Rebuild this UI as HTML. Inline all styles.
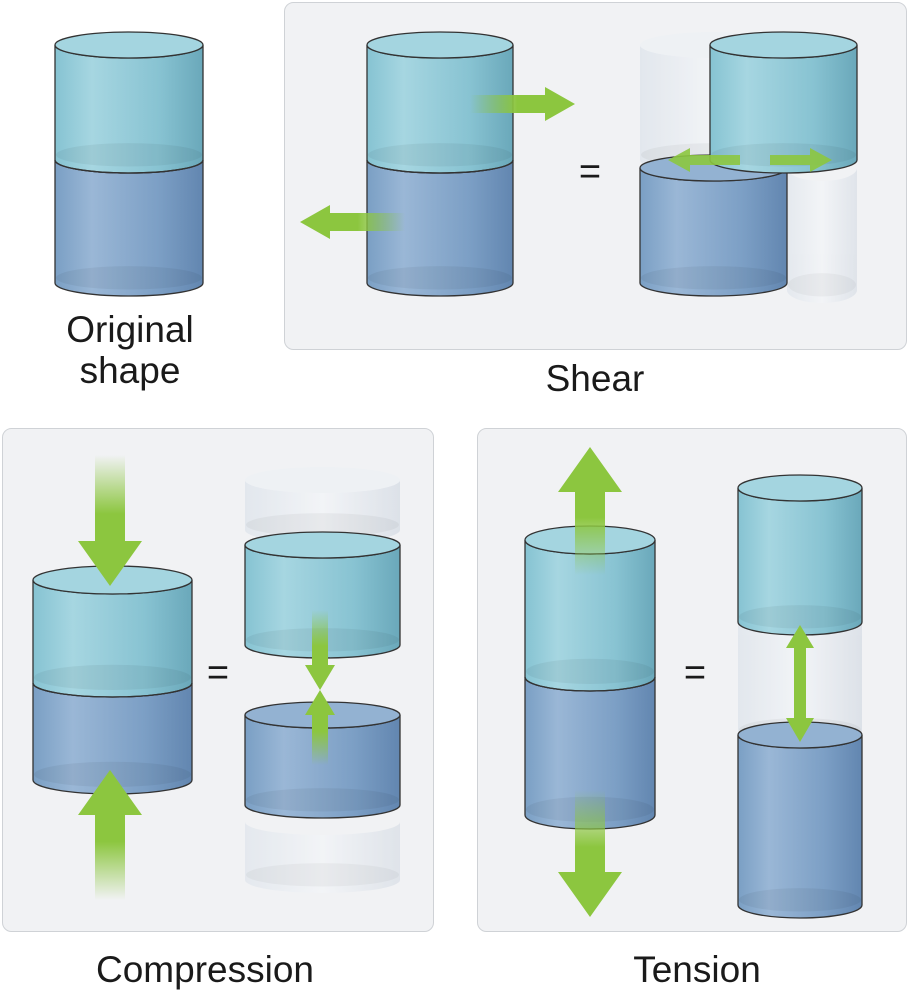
<!DOCTYPE html>
<html><head><meta charset="utf-8"><style>
html,body{margin:0;padding:0;background:#fff;width:910px;height:991px;overflow:hidden}
.t{font-family:"Liberation Sans",sans-serif;font-size:37px;fill:#1a1a1a}
</style></head><body>
<svg id="s" width="910" height="991" viewBox="0 0 910 991" xmlns="http://www.w3.org/2000/svg">
<defs>
<linearGradient id="cy" x1="0" x2="1" y1="0" y2="0"><stop offset="0" stop-color="#86c3d2"/><stop offset="0.25" stop-color="#a6d6e1"/><stop offset="0.7" stop-color="#88c3d2"/><stop offset="1" stop-color="#6aa8ba"/></linearGradient>
<linearGradient id="bl" x1="0" x2="1" y1="0" y2="0"><stop offset="0" stop-color="#7a9fc4"/><stop offset="0.25" stop-color="#9ab7d6"/><stop offset="0.7" stop-color="#7c9fc5"/><stop offset="1" stop-color="#6286b0"/></linearGradient>
<linearGradient id="gh" x1="0" x2="1" y1="0" y2="0"><stop offset="0" stop-color="#dfe5ec"/><stop offset="0.5" stop-color="#f3f5f8"/><stop offset="1" stop-color="#d8dee6"/></linearGradient>
<linearGradient id="gd" x1="0" x2="0" y1="0" y2="1"><stop offset="0" stop-color="#8cc63f" stop-opacity="0"/><stop offset="0.45" stop-color="#8cc63f"/></linearGradient>
<linearGradient id="gu" x1="0" x2="0" y1="1" y2="0"><stop offset="0" stop-color="#8cc63f" stop-opacity="0"/><stop offset="0.45" stop-color="#8cc63f"/></linearGradient>
<linearGradient id="gr" x1="0" x2="1" y1="0" y2="0"><stop offset="0" stop-color="#8cc63f" stop-opacity="0"/><stop offset="0.45" stop-color="#8cc63f"/></linearGradient>
<linearGradient id="gl" x1="1" x2="0" y1="0" y2="0"><stop offset="0" stop-color="#8cc63f" stop-opacity="0"/><stop offset="0.45" stop-color="#8cc63f"/></linearGradient>
</defs>
<rect x="284.5" y="2.5" width="622" height="347" rx="9" fill="#f1f2f4" stroke="#cfd2d6"/>
<rect x="2.5" y="428.5" width="431" height="503" rx="9" fill="#f1f2f4" stroke="#cfd2d6"/>
<rect x="477.5" y="428.5" width="429" height="503" rx="9" fill="#f1f2f4" stroke="#cfd2d6"/>
<g id="g"></g>
<text class="t" x="130" y="342" text-anchor="middle">Original</text>
<text class="t" x="130" y="383" text-anchor="middle">shape</text>
<text class="t" x="595" y="391" text-anchor="middle">Shear</text>
<text class="t" x="205" y="982" text-anchor="middle">Compression</text>
<text class="t" x="697" y="982" text-anchor="middle">Tension</text>
<text class="t" x="590" y="184" text-anchor="middle" style="font-size:38px">=</text>
<text class="t" x="218" y="685" text-anchor="middle" style="font-size:38px">=</text>
<text class="t" x="695" y="685" text-anchor="middle" style="font-size:38px">=</text>
</svg>
<script>
var G=document.getElementById('g'),h='';
function seg(x,w,t,b,ry,f,top,op){var rx=w/2,cx=x+rx;
h+='<g opacity="'+(op||1)+'"><path d="M'+x+','+t+' L'+x+','+b+' A'+rx+','+ry+' 0 0 0 '+(x+w)+','+b+' L'+(x+w)+','+t+' A'+rx+','+ry+' 0 0 1 '+x+','+t+'Z" fill="url(#'+f+')" stroke="'+(op?'none':'#333')+'" stroke-width="1.3"/>';
h+='<ellipse cx="'+cx+'" cy="'+(b-ry*0.4)+'" rx="'+(rx-1)+'" ry="'+(ry*0.9)+'" fill="#000" opacity="0.05"/>';
if(top)h+='<ellipse cx="'+cx+'" cy="'+t+'" rx="'+rx+'" ry="'+ry+'" fill="'+(f=='cy'?'#a4d5e0':f=='bl'?'#93b2d2':'#eef1f5')+'" stroke="'+(op?'none':'#333')+'" stroke-width="1.3"/>';
h+='</g>';}
function stack(x,w,t,m,b,ry){seg(x,w,m,b,ry,'bl',false);seg(x,w,t,m,ry,'cy',true);
h+='<path d="M'+x+','+m+' A'+w/2+','+ry+' 0 0 0 '+(x+w)+','+m+'" fill="none" stroke="#333" stroke-width="1.3"/>';}
function arrV(cx,y1,y2,sw,hw,hl,grad){var d=y2>y1?1:-1,yb=y2-d*hl;
h+='<polygon points="'+(cx-sw/2)+','+y1+' '+(cx+sw/2)+','+y1+' '+(cx+sw/2)+','+yb+' '+(cx+hw/2)+','+yb+' '+cx+','+y2+' '+(cx-hw/2)+','+yb+' '+(cx-sw/2)+','+yb+'" fill="url(#'+grad+')"/>';}
function arrH(cy,x1,x2,sw,hw,hl,grad){var d=x2>x1?1:-1,xb=x2-d*hl;
h+='<polygon points="'+x1+','+(cy-sw/2)+' '+x1+','+(cy+sw/2)+' '+xb+','+(cy+sw/2)+' '+xb+','+(cy+hw/2)+' '+x2+','+cy+' '+xb+','+(cy-hw/2)+' '+xb+','+(cy-sw/2)+'" fill="url(#'+grad+')"/>';}
stack(55,148,45,160,283,13);
stack(367,146,45,160,283,13);
arrH(104,470,575,18,34,30,'gr');arrH(222,405,300,18,34,30,'gl');
seg(640,147,45,160,13,'gh',true,0.8);seg(787,70,168,290,13,'gh',false,0.7);
seg(640,147,168,283,13,'bl',true);
seg(710,147,45,160,13,'cy',true);
h+='<polygon points="668,160 690,148 690,155 740,155 740,165 690,165 690,172" fill="#8cc63f" opacity="0.9"/>';
h+='<polygon points="832,160 810,148 810,155 770,155 770,165 810,165 810,172" fill="#8cc63f" opacity="0.9"/>';
stack(33,159,580,683,780,14);
arrV(110,455,586,30,64,45,'gd');arrV(110,900,770,30,64,45,'gu');
seg(245,155,480,530,13,'gh',true,0.8);seg(245,155,822,880,13,'gh',false,0.7);
seg(245,155,545,645,13,'cy',true);seg(245,155,715,805,13,'bl',true);
arrV(320,610,690,16,30,25,'gd');arrV(320,765,690,16,30,25,'gu');
stack(525,130,540,677,815,14);
arrV(590,575,447,30,64,45,'gu');arrV(590,790,917,30,64,45,'gd');
seg(738,124,622,735,13,'gh',false,0.8);
seg(738,124,488,622,13,'cy',true);seg(738,124,735,905,13,'bl',true);
h+='<polygon points="800,625 814,648 806,648 806,718 814,718 800,742 786,718 794,718 794,648 786,648" fill="#8cc63f"/>';
G.innerHTML=h;
</script>
</body></html>
